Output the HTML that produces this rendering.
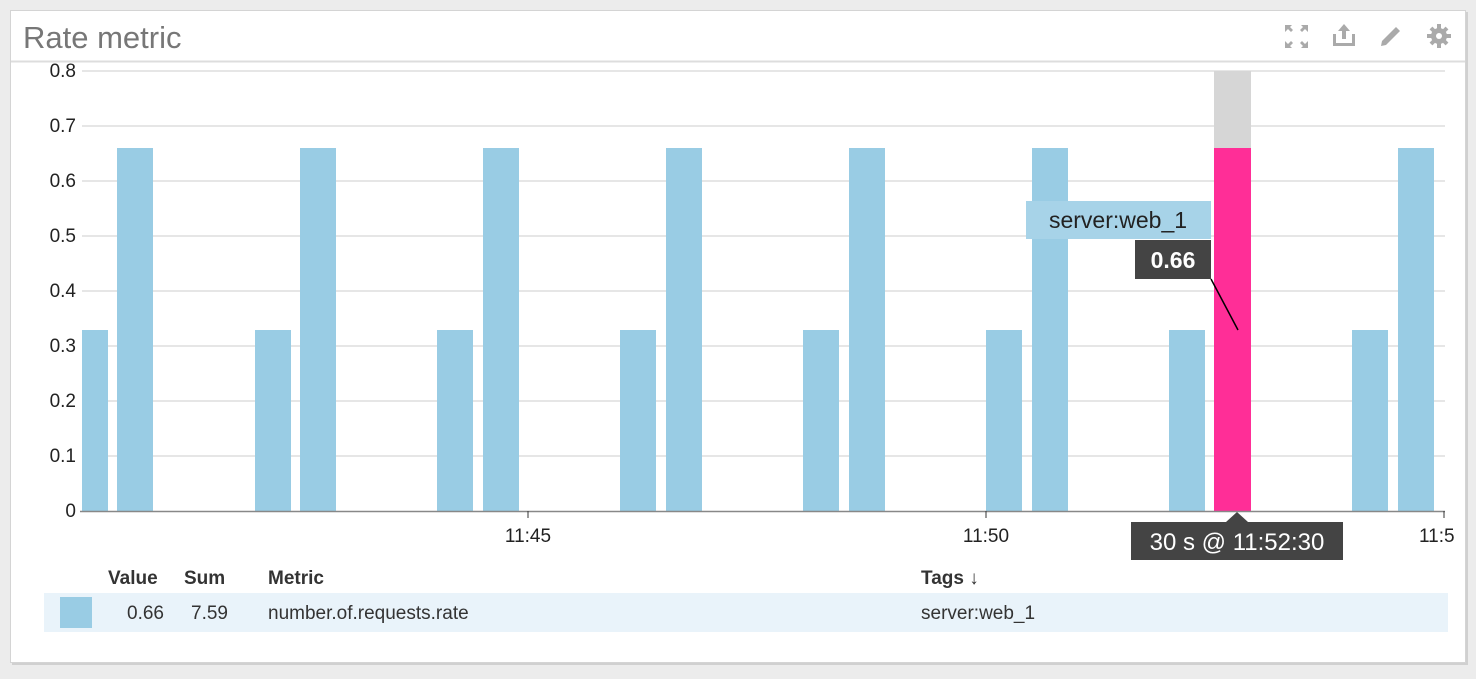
<!DOCTYPE html>
<html><head><style>
body{margin:0;width:1476px;height:674px;background:#ececec;font-family:"Liberation Sans","DejaVu Sans",sans-serif;overflow:hidden}
</style></head><body>
<svg width="1476" height="674" xmlns="http://www.w3.org/2000/svg" font-family="Liberation Sans, DejaVu Sans, sans-serif">
<rect x="0" y="0" width="1476" height="674" fill="#ececec"/>
<rect x="12" y="12" width="1456" height="653" fill="#d0d0d0"/>
<rect x="10.5" y="10.5" width="1455" height="652" fill="#fff" stroke="#d4d4d4"/>
<text x="23" y="48" font-size="31" fill="#777">Rate metric</text>
<line x1="11" y1="61.5" x2="1465" y2="61.5" stroke="#ddd" stroke-width="2"/>
<g fill="#aaa">
<path d="M1285 25h7l-2 2 3 3-2 2-3-3-3 3z M1308 25h-7l2 2-3 3 2 2 3-3 3 3z M1285 48h7l-2-2 3-3-2-2-3 3-3-3z M1308 48h-7l2-2-3-3 2-2 3 3 3-3z"/>
<path d="M1344 24l-6 7h4v8h4v-8h4z M1333 34h3v9h16v-9h3v12h-22z"/>
<path d="M1396 27l4 4-14 14-5 1 1-5z"/>
<circle cx="1439" cy="36" r="8"/>
</g>
<g stroke="#aaa" stroke-width="4"><line x1="1439" y1="24" x2="1439" y2="48"/><line x1="1427" y1="36" x2="1451" y2="36"/><line x1="1431" y1="28" x2="1447" y2="44"/><line x1="1447" y1="28" x2="1431" y2="44"/></g>
<circle cx="1439" cy="36" r="3" fill="#fff"/>
<g stroke="#e6e6e6" stroke-width="2">
<line x1="82" y1="71" x2="1445" y2="71"/><line x1="82" y1="126" x2="1445" y2="126"/><line x1="82" y1="181" x2="1445" y2="181"/><line x1="82" y1="236" x2="1445" y2="236"/><line x1="82" y1="291" x2="1445" y2="291"/><line x1="82" y1="346" x2="1445" y2="346"/><line x1="82" y1="401" x2="1445" y2="401"/><line x1="82" y1="456" x2="1445" y2="456"/>
</g>
<g font-size="19" fill="#222" text-anchor="end">
<text x="76" y="77">0.8</text><text x="76" y="132">0.7</text><text x="76" y="187">0.6</text><text x="76" y="242">0.5</text><text x="76" y="297">0.4</text><text x="76" y="352">0.3</text><text x="76" y="407">0.2</text><text x="76" y="462">0.1</text><text x="76" y="517">0</text>
</g>
<rect x="1214" y="71" width="37" height="77" fill="#d6d6d6"/>
<g fill="#99cce4">
<rect x="82" y="330" width="26" height="181"/><rect x="117" y="148" width="36" height="363"/>
<rect x="255" y="330" width="36" height="181"/><rect x="300" y="148" width="36" height="363"/>
<rect x="437" y="330" width="36" height="181"/><rect x="483" y="148" width="36" height="363"/>
<rect x="620" y="330" width="36" height="181"/><rect x="666" y="148" width="36" height="363"/>
<rect x="803" y="330" width="36" height="181"/><rect x="849" y="148" width="36" height="363"/>
<rect x="986" y="330" width="36" height="181"/><rect x="1032" y="148" width="36" height="363"/>
<rect x="1169" y="330" width="36" height="181"/>
<rect x="1352" y="330" width="36" height="181"/><rect x="1398" y="148" width="36" height="363"/>
</g>
<rect x="1214" y="148" width="37" height="363" fill="#ff2e97"/>
<line x1="80" y1="511.5" x2="1445" y2="511.5" stroke="#888" stroke-width="1.5"/>
<g stroke="#333"><line x1="528" y1="511" x2="528" y2="518"/><line x1="986" y1="511" x2="986" y2="518"/><line x1="1444" y1="511" x2="1444" y2="518"/></g>
<g font-size="19" fill="#222" text-anchor="middle"><text x="528" y="542">11:45</text><text x="986" y="542">11:50</text></g>
<text x="1419" y="542" font-size="19" fill="#222">11:5</text>
<rect x="1026" y="201" width="185" height="38" fill="#a7d3e8"/>
<text x="1118" y="228" font-size="23" fill="#222" text-anchor="middle">server:web_1</text>
<rect x="1135" y="240" width="76" height="39" fill="#444"/>
<text x="1173" y="268" font-size="23" font-weight="bold" fill="#fff" text-anchor="middle">0.66</text>
<line x1="1211" y1="279" x2="1238" y2="330" stroke="#000" stroke-width="1.5"/>
<polygon points="1226,522 1237,512 1248,522" fill="#444"/>
<rect x="1131" y="522" width="212" height="38" fill="#444"/>
<text x="1237" y="550" font-size="24" fill="#fff" text-anchor="middle">30 s @ 11:52:30</text>
<g font-size="19" font-weight="bold" fill="#333">
<text x="108" y="584">Value</text><text x="184" y="584">Sum</text><text x="268" y="584">Metric</text><text x="921" y="584">Tags ↓</text>
</g>
<rect x="44" y="593" width="1404" height="39" fill="#e9f3fa"/>
<rect x="60" y="597" width="32" height="31" fill="#99cce4"/>
<g font-size="19" fill="#333">
<text x="164" y="619" text-anchor="end">0.66</text><text x="228" y="619" text-anchor="end">7.59</text><text x="268" y="619">number.of.requests.rate</text><text x="921" y="619">server:web_1</text>
</g>
</svg>
</body></html>
